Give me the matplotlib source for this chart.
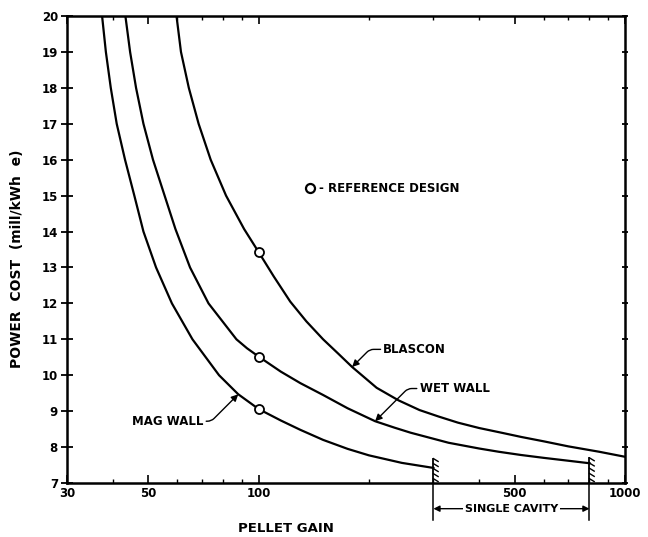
import numpy as np
import matplotlib.pyplot as plt
from matplotlib.ticker import FixedLocator, NullFormatter, FixedFormatter

# power cost (mill/kWh e) vs pellet gain
blascon_gain = [59.7, 61.4, 64.5, 68.6, 74.0, 81.5, 91.3, 100, 110, 122, 135, 150, 165, 180, 210, 241,
                275, 310, 350, 400, 460, 522, 600, 700, 850, 1000]
blascon_cost = [20.0, 19.0, 18.0, 17.0, 16.0, 15.0, 14.07, 13.43, 12.75, 12.05, 11.5, 11.0, 10.6, 10.23,
                9.65, 9.3, 9.03, 8.85, 8.68, 8.53, 8.4, 8.28, 8.16, 8.02, 7.87, 7.73]

wet_gain = [43.3, 44.6, 46.3, 48.5, 51.5, 55.4, 59.3, 65.0, 73.0, 87, 93, 100, 115, 130, 150, 175, 208,
            235, 260, 330, 400, 452, 520, 600, 700, 800]
wet_cost = [20.0, 19.0, 18.0, 17.0, 16.0, 15.0, 14.07, 13.0, 12.0, 11.0, 10.75, 10.52, 10.1, 9.78, 9.45,
            9.08, 8.72, 8.54, 8.40, 8.12, 7.96, 7.87, 7.78, 7.70, 7.62, 7.55]

mag_gain = [37.4, 38.3, 39.5, 41.0, 43.2, 45.8, 48.5, 52.5, 58.0, 66.0, 78.0, 88.0, 100, 115, 130,
            150, 175, 200, 246, 300]
mag_cost = [20.0, 19.0, 18.0, 17.0, 16.0, 15.0, 14.0, 13.0, 12.0, 11.0, 10.0, 9.47, 9.06, 8.74, 8.48,
            8.2, 7.95, 7.77, 7.56, 7.42]

# reference design points
ref_gain = [100, 100, 100]
ref_cost = [13.43, 10.52, 9.06]

# single cavity range
cavity = [300, 800]
cavity_top = [7.68, 7.7]

x_major = [30, 50, 100, 500, 1000]
x_labels = ["30", "50", "100", "500", "1000"]
x_minor = [40, 60, 70, 80, 90, 200, 300, 400, 600, 700, 800, 900]

bold = dict(fontweight="bold", family="DejaVu Sans")

fig = plt.figure(figsize=(6.48, 5.37), dpi=100)
ax = fig.add_axes([67 / 648, 1 - 483 / 537, 558 / 648, 467 / 537])

for g, c in [(blascon_gain, blascon_cost), (wet_gain, wet_cost), (mag_gain, mag_cost)]:
    ax.plot(g, c, color="black", lw=1.6, solid_joinstyle="round")

ax.plot(ref_gain, ref_cost, "o", ms=6.5, mfc="white", mec="black", mew=1.3, zorder=3)

ax.set_xscale("log")
ax.set_xlim(30, 1000)
ax.set_ylim(7, 20)

ax.xaxis.set_major_locator(FixedLocator(x_major))
ax.xaxis.set_major_formatter(FixedFormatter(x_labels))
ax.xaxis.set_minor_locator(FixedLocator(x_minor))
ax.xaxis.set_minor_formatter(NullFormatter())
ax.set_yticks(range(7, 21))

ax.tick_params(axis="x", which="major", direction="in", length=6, width=1.2, top=True, pad=3)
ax.tick_params(axis="x", which="minor", direction="in", length=3, width=1.0, top=True)
ax.tick_params(axis="y", which="major", direction="inout", length=9, width=1.3, pad=2, right=True)
for lab in ax.get_xticklabels() + ax.get_yticklabels():
    lab.set_fontweight("bold")
    lab.set_fontsize(8.5)
for t in ax.yaxis.get_major_ticks():
    t.tick2line.set_markersize(4)

for s in ax.spines.values():
    s.set_linewidth(1.8)

# hatch marks at the single cavity limits
for g, top in zip(cavity, cavity_top):
    ax.plot([g, g], [7, top], color="black", lw=1.3)
    for yy in np.linspace(7.12, top, 5):
        ax.plot([g, g * 1.03], [yy, yy - 0.08], color="black", lw=1.0)

# single cavity bracket below the axis
tr = ax.get_xaxis_transform()
for g in cavity:
    ax.plot([g, g], [0, -0.079], color="black", lw=1.1, transform=tr, clip_on=False)
ax.annotate("", xy=(cavity[0], -0.055), xytext=(cavity[1], -0.055), xycoords=tr, textcoords=tr,
            arrowprops=dict(arrowstyle="<|-|>", color="black", lw=1.0,
                            mutation_scale=9, shrinkA=0, shrinkB=0))
ax.text(np.sqrt(cavity[0] * cavity[1]), -0.055, "SINGLE CAVITY", transform=tr, ha="center", va="center",
        fontsize=8, bbox=dict(facecolor="white", edgecolor="none", pad=1.5), **bold)

# curve labels with leaders
arrow = dict(arrowstyle="-|>", color="black", lw=1.0, mutation_scale=10, shrinkA=0, shrinkB=0)
ax.annotate("BLASCON", xy=(180, 10.23), xytext=(219, 10.72), ha="left", va="center", fontsize=8.5,
            arrowprops=dict(connectionstyle="angle,angleA=0,angleB=45,rad=4", **arrow), **bold)
ax.annotate("WET WALL", xy=(208, 8.72), xytext=(275, 9.63), ha="left", va="center", fontsize=8.5,
            arrowprops=dict(connectionstyle="angle,angleA=0,angleB=45,rad=4", **arrow), **bold)
ax.annotate("MAG WALL", xy=(88.0, 9.47), xytext=(70.7, 8.72), ha="right", va="center", fontsize=8.5,
            arrowprops=dict(connectionstyle="angle,angleA=0,angleB=45,rad=4", **arrow), **bold)

# legend note
ax.plot([138], [15.2], "o", ms=6.5, mfc="white", mec="black", mew=1.6)
ax.text(146, 15.2, "- REFERENCE DESIGN", ha="left", va="center", fontsize=8.5, **bold)

ax.text(0.392, -0.098, "PELLET GAIN", transform=ax.transAxes, ha="center", va="center",
        fontsize=9.5, **bold)
ax.text(-0.09, 0.48, "POWER  COST  (mill/kWh  e)", transform=ax.transAxes, ha="center", va="center",
        rotation=90, fontsize=10, **bold)

fig.savefig("out.png", dpi=100)
